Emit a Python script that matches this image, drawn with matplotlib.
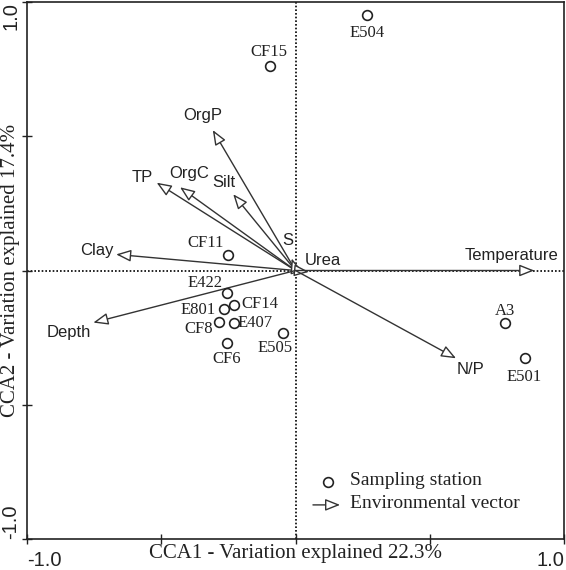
import matplotlib
matplotlib.use("Agg")
import matplotlib.pyplot as plt

# ---- data ----
stations = ["E504", "CF15", "CF11", "E422", "CF14", "E801", "CF8", "E407", "CF6", "E505", "A3", "E501"]
st_x = [0.265, -0.095, -0.250, -0.256, -0.228, -0.265, -0.285, -0.228, -0.256, -0.048, 0.781, 0.856]
st_y = [0.952, 0.762, 0.058, -0.085, -0.128, -0.145, -0.191, -0.197, -0.269, -0.232, -0.197, -0.327]

variables = ["OrgP", "TP", "OrgC", "Silt", "Clay", "S", "Urea", "Temperature", "N/P", "Depth"]
var_x = [-0.308, -0.517, -0.430, -0.232, -0.668, -0.014, 0.050, 0.889, 0.598, -0.753]
var_y = [0.523, 0.327, 0.310, 0.284, 0.060, 0.045, -0.005, 0.000, -0.327, -0.194]

xticks = [-1.0, -0.5, 0.0, 0.5, 1.0]
yticks = [-1.0, -0.5, 0.0, 0.5, 1.0]
xticklabels = ["-1.0", "", "", "", "1.0"]
yticklabels = ["-1.0", "", "", "", "1.0"]
xlabel = "CCA1 - Variation explained 22.3%"
ylabel = "CCA2 - Variation explained 17.4%"
legend_labels = ["Sampling station", "Environmental vector"]

# ---- label offsets (pixels) ----
st_off = {"E504": (0, -18), "CF15": (-1, 14), "CF11": (-23, 12), "E422": (-22, 10),
          "CF14": (26, 1), "E801": (-26, -1), "CF8": (-20, -7), "E407": (21, 0),
          "CF6": (0, -16), "E505": (-8, -15), "A3": (0, 12), "E501": (-1, -19)}
var_off = {"OrgP": (-10, 15), "TP": (-14, 5), "OrgC": (9, 14), "Silt": (-9, 12),
           "Clay": (-19, 4), "S": (-4, 18), "Urea": (14, 11), "Temperature": (-23, 15),
           "N/P": (14, -11), "Depth": (-25, -10)}

SANS = "Liberation Sans"
SERIF = "Liberation Serif"
INK = "#222222"
ARR = "#333333"

fig = plt.figure(figsize=(5.66, 5.70), dpi=100)
ax = fig.add_axes([27 / 566, 31 / 570, 537 / 566, 537 / 570])
ax.set_xlim(-1, 1)
ax.set_ylim(-1, 1)

ax.axhline(0, color="black", ls=(0, (1, 1.2)), lw=1.2, zorder=1)
ax.axvline(0, color="black", ls=(0, (1, 1.2)), lw=1.2, zorder=1)

arrow_style = dict(arrowstyle="-|>,head_length=0.75,head_width=0.3",
                   fc="white", ec=ARR, lw=1.0, mutation_scale=12,
                   shrinkA=0, shrinkB=0)

# arrows
for name, x, y in zip(variables, var_x, var_y):
    ax.annotate("", xy=(x, y), xytext=(0, 0), arrowprops=arrow_style, zorder=3)
    dx, dy = var_off[name]
    ax.annotate(name, xy=(x, y), xytext=(dx, dy), textcoords="offset pixels",
                ha="center", va="center", fontsize=12, family=SANS, color=INK, zorder=4)

# stations
ax.plot(st_x, st_y, ls="none", marker="o", ms=7, mfc="white", mec=INK, mew=1.2, zorder=5)
for name, x, y in zip(stations, st_x, st_y):
    dx, dy = st_off[name]
    ax.annotate(name, xy=(x, y), xytext=(dx, dy), textcoords="offset pixels",
                ha="center", va="center", fontsize=12, family=SERIF, color=INK, zorder=6)

# ticks
ax.set_xticks(xticks)
ax.set_xticklabels(xticklabels, fontsize=14.5, family=SANS, color=INK)
ax.set_yticks(yticks)
ax.set_yticklabels(yticklabels, fontsize=14.5, family=SANS, color=INK, rotation=90)
ax.tick_params(direction="inout", length=7, width=1.0, color=INK)
ax.tick_params(axis="x", pad=5)
ax.tick_params(axis="y", pad=1.5)
xl = ax.get_xticklabels()
xl[0].set_ha("left")
xl[-1].set_ha("right")
yl = ax.get_yticklabels()
yl[0].set_va("bottom")
yl[-1].set_va("top")
for t in yl:
    t.set_ha("right")

for s in ax.spines.values():
    s.set_linewidth(1.2)
    s.set_color(INK)

ax.set_xlabel(xlabel, fontsize=15, family=SERIF, color=INK)
ax.xaxis.label.set_va("center")
ax.xaxis.set_label_coords(0.5, -0.027)
ax.set_ylabel(ylabel, fontsize=15, family=SERIF, color=INK)
ax.yaxis.label.set_va("center")
ax.yaxis.label.set_ha("center")
ax.yaxis.set_label_coords(-0.031, 0.5)

# legend (manual)
ax.plot([0.120], [-0.787], ls="none", marker="o", ms=7, mfc="white", mec=INK, mew=1.2, zorder=5)
ax.text(0.203, -0.781, legend_labels[0], fontsize=14, family=SERIF, color=INK, ha="left", va="center")
ax.annotate("", xy=(0.166, -0.873), xytext=(0.065, -0.873), arrowprops=arrow_style)
ax.text(0.203, -0.868, legend_labels[1], fontsize=14, family=SERIF, color=INK, ha="left", va="center")

fig.savefig("out.png", dpi=100)
